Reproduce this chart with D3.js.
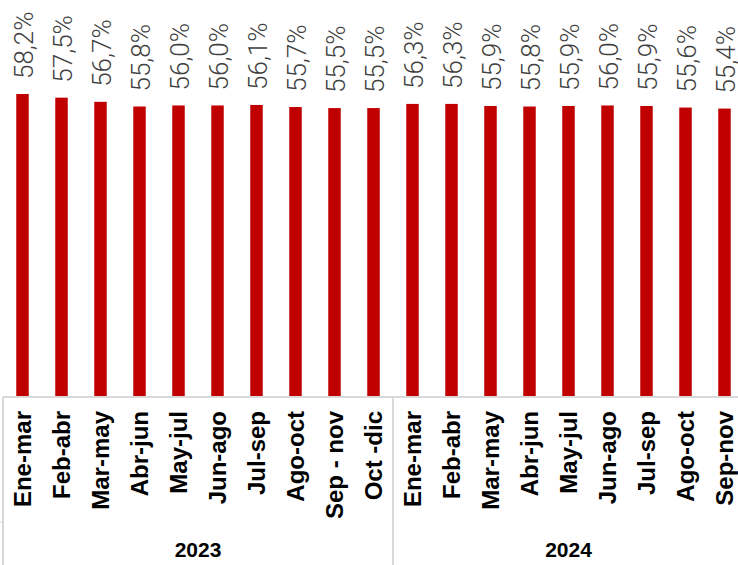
<!DOCTYPE html>
<html>
<head>
<meta charset="utf-8">
<script src="https://cdn.jsdelivr.net/npm/d3@7"></script>
<style>
  body { margin: 0; background: #fff; }
  svg { display: block; }
</style>
</head>
<body>
<svg width="738" height="565"></svg>
<script>
// DATA
var categories = ["Ene-mar", "Feb-abr", "Mar-may", "Abr-jun", "May-jul", "Jun-ago", "Jul-sep", "Ago-oct", "Sep - nov", "Oct -dic",
                  "Ene-mar", "Feb-abr", "Mar-may", "Abr-jun", "May-jul", "Jun-ago", "Jul-sep", "Ago-oct", "Sep-nov"];
var values = [58.2, 57.5, 56.7, 55.8, 56.0, 56.0, 56.1, 55.7, 55.5, 55.5,
              56.3, 56.3, 55.9, 55.8, 55.9, 56.0, 55.9, 55.6, 55.4];
var years = ["2023", "2024"];
var yearCounts = [10, 9];

var color_bar = "#c00000";
var color_grid = "#d9d9d9";

// SETUP
var svg = d3.select("svg"),
    axisY = 397,
    x = d3.scaleBand().domain(d3.range(values.length)).range([3, 744]).paddingInner(0.68).paddingOuter(0.34),
    y = d3.scaleLinear().domain([0, 70]).range([axisY, axisY - 70 * 5.206]);

var g = svg.append("g");

// bars
g.selectAll(".bar")
    .data(values)
    .enter().append("rect")
    .attr("class", "bar")
    .attr("x", function (d, i) { return x(i); })
    .attr("y", function (d) { return y(d); })
    .attr("width", x.bandwidth())
    .attr("height", function (d) { return axisY - y(d); })
    .attr("fill", color_bar);

// value labels
g.selectAll(".val")
    .data(values)
    .enter().append("text")
    .attr("class", "val")
    .attr("transform", function (d, i) {
        return "translate(" + (x(i) + x.bandwidth() / 2 + 1) + "," + (y(d) - 15) + ") rotate(-90)";
    })
    .attr("dy", "0.35em")
    .attr("font-family", "Roboto, 'Liberation Sans', sans-serif")
    .attr("font-weight", 300)
    .attr("font-size", "26px")
    .attr("fill", "#404040")
    .text(function (d) { return d.toFixed(1).replace(".", ",") + "%"; });

// axis lines
var step = x.step();
g.append("line")
    .attr("x1", 3).attr("x2", 738)
    .attr("y1", axisY).attr("y2", axisY)
    .attr("stroke", color_grid).attr("stroke-width", 2);

var start = 0;
var bounds = [0];
yearCounts.forEach(function (c) { start += c; bounds.push(start); });
bounds.forEach(function (b) {
    var xx = 3 + b * step;
    g.append("line")
        .attr("x1", xx).attr("x2", xx)
        .attr("y1", axisY).attr("y2", 565)
        .attr("stroke", color_grid).attr("stroke-width", 2);
});
g.append("line")
    .attr("x1", 0).attr("x2", 3)
    .attr("y1", 522).attr("y2", 522)
    .attr("stroke", color_grid).attr("stroke-width", 1);

// category labels
g.selectAll(".cat")
    .data(categories)
    .enter().append("text")
    .attr("class", "cat")
    .attr("transform", function (d, i) {
        return "translate(" + (x(i) + x.bandwidth() / 2) + "," + (axisY + 14) + ") rotate(-90)";
    })
    .attr("dy", "0.35em")
    .attr("text-anchor", "end")
    .attr("font-family", "'Liberation Sans', Arial, sans-serif")
    .attr("font-weight", "bold")
    .attr("font-size", "24px")
    .attr("fill", "#000")
    .text(function (d) { return d; });

// year labels
g.selectAll(".year")
    .data(years)
    .enter().append("text")
    .attr("class", "year")
    .attr("x", function (d, i) { return 3 + (bounds[i] + bounds[i + 1]) / 2 * step; })
    .attr("y", 557)
    .attr("text-anchor", "middle")
    .attr("font-family", "'Liberation Sans', Arial, sans-serif")
    .attr("font-weight", "bold")
    .attr("font-size", "21px")
    .attr("fill", "#000")
    .text(function (d) { return d; });
</script>
</body>
</html>
